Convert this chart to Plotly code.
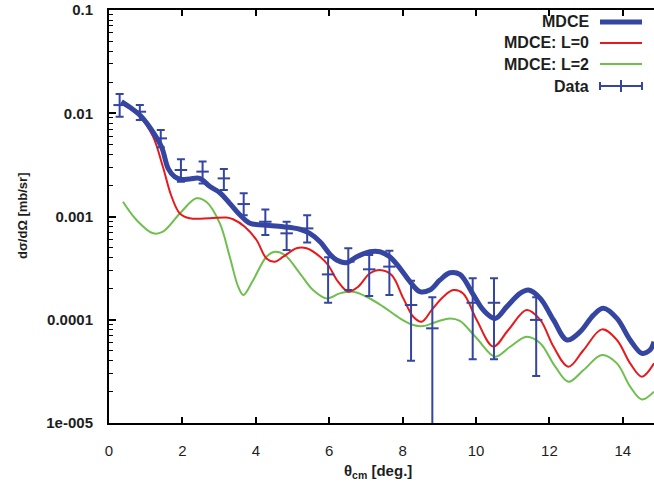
import plotly.graph_objects as go

# ---------------- data ----------------
mdce_x = [0.34, 0.60, 0.84, 1.10, 1.43, 1.61, 1.79, 1.97, 2.20, 2.47, 2.75, 3.02, 3.29, 3.55,
          3.84, 4.20, 4.75, 5.20, 5.47, 5.75, 6.03, 6.20, 6.47, 6.75, 7.11, 7.38, 7.65, 7.93,
          8.20, 8.47, 8.74, 9.02, 9.29, 9.56, 9.93, 10.20, 10.52, 10.84, 11.20, 11.43, 11.75,
          12.11, 12.48, 12.84, 13.20, 13.47, 13.84, 14.20, 14.52, 14.74, 14.85]
mdce_y = [0.01294, 0.01122, 0.00962, 0.00741, 0.00474, 0.00293, 0.00243, 0.00229, 0.00231,
          0.00234, 0.00195, 0.00170, 0.00134, 0.00105, 0.000859, 0.000828, 0.000796, 0.000752,
          0.000687, 0.000570, 0.000427, 0.000379, 0.000357, 0.000408, 0.000456, 0.000456,
          0.000408, 0.000315, 0.000234, 0.000187, 0.000194, 0.000243, 0.000285, 0.000275,
          0.000174, 0.000124, 0.000103, 0.000134, 0.000180, 0.000194, 0.000161, 9.95e-5,
          6.37e-5, 7.66e-5, 0.000111, 0.000129, 0.000103, 6.37e-5, 4.73e-5, 5.09e-5, 6.12e-5]

l0_x = [0.34, 0.84, 1.20, 1.47, 1.70, 1.93, 2.20, 2.75, 3.20, 3.38, 3.70, 4.02, 4.29, 4.52,
        4.75, 5.11, 5.38, 5.75, 5.97, 6.24, 6.52, 6.79, 7.11, 7.38, 7.70, 8.02, 8.29, 8.52,
        8.79, 9.11, 9.38, 9.65, 10.02, 10.47, 10.88, 11.38, 11.75, 12.11, 12.52, 12.93,
        13.43, 13.84, 14.20, 14.52, 14.85]
l0_y = [0.01247, 0.00927, 0.00593, 0.00302, 0.00158, 0.00107, 0.000962, 0.000962, 0.000977,
        0.000940, 0.000796, 0.000592, 0.000393, 0.000365, 0.000408, 0.000492, 0.000492,
        0.000408, 0.000339, 0.000234, 0.000187, 0.000209, 0.000282, 0.000303, 0.000271,
        0.000161, 0.000107, 9.57e-5, 0.000124, 0.000167, 0.000194, 0.000180, 9.95e-5,
        5.50e-5, 7.96e-5, 0.000124, 9.95e-5, 5.50e-5, 3.51e-5, 5.09e-5, 8.07e-5, 6.37e-5,
        3.78e-5, 2.81e-5, 3.78e-5]

l2_x = [0.38, 0.75, 1.20, 1.47, 1.93, 2.38, 2.65, 3.02, 3.29, 3.52, 3.66, 3.93, 4.29, 4.52,
        4.79, 5.20, 5.56, 5.93, 6.29, 6.65, 7.02, 7.47, 7.93, 8.29, 8.56, 8.93, 9.29, 9.56,
        10.02, 10.52, 10.93, 11.38, 11.75, 12.16, 12.52, 12.93, 13.43, 13.84, 14.20, 14.52,
        14.85]
l2_y = [0.00139, 0.000925, 0.000687, 0.000713, 0.00107, 0.00150, 0.00139, 0.000859, 0.000408,
        0.000209, 0.000174, 0.000243, 0.000408, 0.000456, 0.000424, 0.000282, 0.000194,
        0.000161, 0.000180, 0.000187, 0.000167, 0.000134, 0.000103, 8.89e-5, 8.69e-5,
        9.57e-5, 0.000103, 9.77e-5, 6.61e-5, 4.39e-5, 5.48e-5, 6.85e-5, 5.92e-5, 3.51e-5,
        2.51e-5, 3.26e-5, 4.56e-5, 3.78e-5, 2.25e-5, 1.69e-5, 2.01e-5]

data_x = [0.29, 0.84, 1.41, 1.96, 2.55, 3.13, 3.67, 4.26, 4.84, 5.40, 5.97, 6.52, 7.09, 7.64,
          8.23, 8.81, 9.91, 10.49, 11.64]
data_y = [0.0120, 0.01035, 0.00571, 0.00282, 0.00272, 0.00234, 0.00132, 0.00089, 0.000687,
          0.000767, 0.000275, 0.000365, 0.000308, 0.000327, 0.000139, 8.26e-5, 0.000146,
          0.000146, 9.96e-5]
data_hi = [0.01535, 0.0120, 0.00689, 0.00358, 0.00340, 0.00288, 0.00168, 0.00117, 0.000891,
           0.00103, 0.000403, 0.000493, 0.000424, 0.000467, 0.000239, 0.000165, 0.000252,
           0.000252, 0.000165]
data_lo = [0.00927, 0.00861, 0.00468, 0.00217, 0.00209, 0.00181, 0.00103, 0.000662, 0.000474,
           0.000561, 0.000146, 0.000194, 0.000170, 0.000174, 4.01e-5, 1e-6, 4.14e-5,
           4.14e-5, 2.85e-5]
data_xerr = [0.17] * len(data_x)

y_tickvals = [1e-5, 1e-4, 1e-3, 1e-2, 1e-1]
y_ticktext = ["1e-005", "0.0001", "0.001", "0.01", "0.1"]
x_tickvals = [0, 2, 4, 6, 8, 10, 12, 14]

legend_names = ["MDCE", "MDCE: L=0", "MDCE: L=2", "Data"]

# ---------------- style ----------------
BLUE = "#3545a2"
RED = "#e8191b"
GREEN = "#6fbf4f"
FONT = "Liberation Sans"
TXT = "#1e1e1e"

fig = go.Figure()
fig.add_trace(go.Scatter(x=l2_x, y=l2_y, mode="lines", line=dict(color=GREEN, width=2, shape="spline", smoothing=1.0),
                         name=legend_names[2], showlegend=False))
fig.add_trace(go.Scatter(x=l0_x, y=l0_y, mode="lines", line=dict(color=RED, width=2, shape="spline", smoothing=1.0),
                         name=legend_names[1], showlegend=False))
fig.add_trace(go.Scatter(x=mdce_x, y=mdce_y, mode="lines", line=dict(color=BLUE, width=5, shape="spline", smoothing=1.0),
                         name=legend_names[0], showlegend=False))
fig.add_trace(go.Scatter(
    x=data_x, y=data_y, mode="markers", name=legend_names[3], showlegend=False,
    marker=dict(size=1, color=BLUE),
    error_y=dict(type="data", symmetric=False,
                 array=[h - y for h, y in zip(data_hi, data_y)],
                 arrayminus=[y - l for y, l in zip(data_y, data_lo)],
                 color=BLUE, thickness=2, width=4),
    error_x=dict(type="data", array=data_xerr, color=BLUE, thickness=2, width=0),
))

# plot area in pixels: x 109..654, y 10..423
L, R, T, B = 109, 654, 10, 423
def px(xp):
    return (xp - L) / (R - L)
def py(yp):
    return (B - yp) / (B - T)

annotations = []
shapes = []
rows = [22, 43, 64, 86]
styles = [(BLUE, 5), (RED, 2), (GREEN, 2), (BLUE, 2)]
for name, yr, (c, w) in zip(legend_names, rows, styles):
    annotations.append(dict(xref="paper", yref="paper", x=px(591), y=py(yr), text="<b>%s</b>" % name,
                            showarrow=False, xanchor="right", yanchor="middle",
                            font=dict(family=FONT, size=16, color=TXT)))
    shapes.append(dict(type="line", xref="paper", yref="paper", x0=px(600), x1=px(642), y0=py(yr), y1=py(yr),
                       line=dict(color=c, width=w)))
# data legend caps
yd = rows[3]
for xc, half in [(600, 4), (642, 4), (621, 6)]:
    shapes.append(dict(type="line", xref="paper", yref="paper", x0=px(xc), x1=px(xc),
                       y0=py(yd - half), y1=py(yd + half), line=dict(color=BLUE, width=2)))

annotations.append(dict(xref="paper", yref="paper", x=px(378), y=py(471),
                        text="<b>θ<sub>cm</sub> [deg.]</b>", showarrow=False,
                        xanchor="center", yanchor="middle", font=dict(family=FONT, size=15, color=TXT)))
annotations.append(dict(xref="paper", yref="paper", x=px(22), y=py(216),
                        text="<b>dσ/dΩ [mb/sr]</b>", showarrow=False, textangle=-90,
                        xanchor="center", yanchor="middle", font=dict(family=FONT, size=13, color=TXT)))

fig.update_layout(
    width=654, height=495,
    margin=dict(l=L, r=0, t=T, b=495 - B),
    paper_bgcolor="white", plot_bgcolor="white",
    showlegend=False,
    annotations=annotations, shapes=shapes,
    xaxis=dict(range=[0, 14.85], tickvals=x_tickvals, ticks="inside", ticklen=6, tickwidth=1.5,
               tickcolor="black", showline=True, linecolor="black", linewidth=2, mirror="ticks",
               showgrid=False, zeroline=False, ticklabelstandoff=13,
               tickfont=dict(family=FONT, size=15, color=TXT), tickprefix="<b>", ticksuffix="</b>"),
    yaxis=dict(type="log", range=[-5, -1], tickvals=y_tickvals, ticktext=["<b>%s</b>" % t for t in y_ticktext],
               ticks="inside", ticklen=7, tickwidth=1.5, tickcolor="black",
               showline=True, linecolor="black", linewidth=2, mirror=False,
               showgrid=False, zeroline=False, ticklabelstandoff=11,
               minor=dict(ticks="inside", ticklen=4, tickcolor="black", tickwidth=1, dtick="D1", showgrid=False),
               tickfont=dict(family=FONT, size=15, color=TXT)),
)

fig.write_html("out.html")
